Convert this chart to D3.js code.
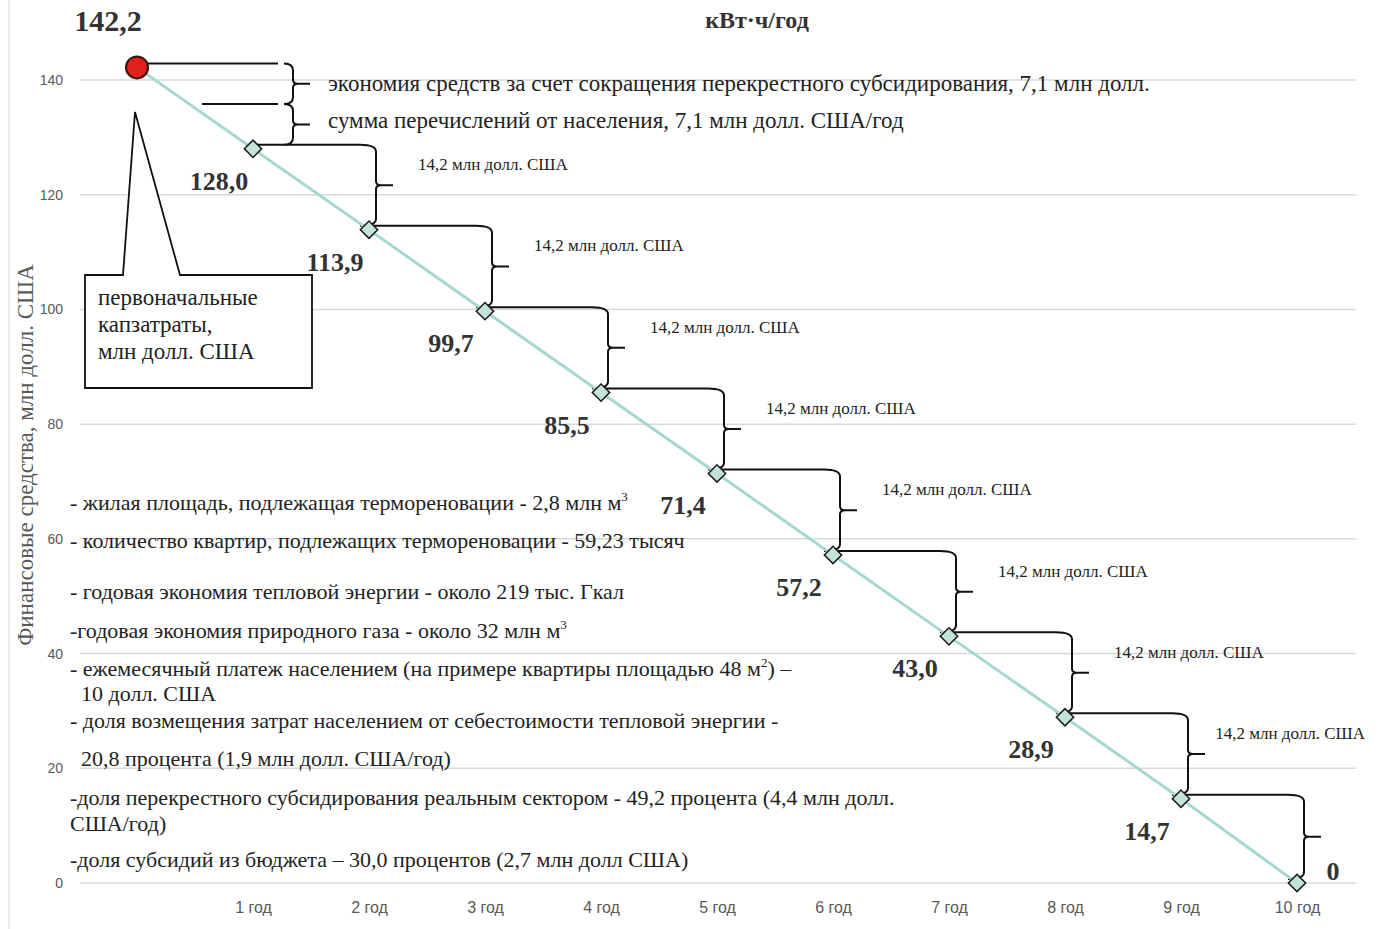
<!DOCTYPE html>
<html><head><meta charset="utf-8">
<script src="https://cdn.jsdelivr.net/npm/d3@7"></script>
<style>
body{margin:0;background:#fff;}
svg{display:block;}
</style></head>
<body>
<svg id="c" width="1379" height="929"></svg>
<script>
// ---------- data ----------
const years = [0,1,2,3,4,5,6,7,8,9,10];
const yearLabels = ["", "1 год","2 год","3 год","4 год","5 год","6 год","7 год","8 год","9 год","10 год"];
const values = [142.2,128.0,113.9,99.7,85.5,71.4,57.2,43.0,28.9,14.7,0];
const valueLabels = ["142,2","128,0","113,9","99,7","85,5","71,4","57,2","43,0","28,9","14,7","0"];
const yTicks = [0,20,40,60,80,100,120,140];
const stepLabel = "14,2 млн долл. США";
const topSplit = [142.2, 135.1, 128.0];
const topSplitLabels = ["экономия средств за счет сокращения перекрестного субсидирования, 7,1 млн долл.",
                        "сумма перечислений от населения, 7,1 млн долл. США/год"];
const title = "кВт·ч/год";
const yTitle = "Финансовые средства, млн  долл. США";
const calloutLines = ["первоначальные","капзатраты,","млн долл. США"];
const notes = [
  ["- жилая площадь, подлежащая термореновации - 2,8 млн м", "3"],
  ["- количество квартир, подлежащих термореновации - 59,23 тысяч"],
  ["- годовая экономия тепловой энергии - около 219 тыс. Гкал"],
  ["-годовая экономия природного газа - около 32 млн м", "3"],
  ["- ежемесячный платеж населением (на примере квартиры площадью 48 м", "2", ") –"],
  ["  10 долл. США"],
  ["- доля возмещения затрат населением от себестоимости тепловой энергии -"],
  ["  20,8 процента (1,9 млн долл. США/год)"],
  ["-доля перекрестного субсидирования реальным сектором - 49,2 процента (4,4 млн долл."],
  ["США/год)"],
  ["-доля субсидий из бюджета – 30,0 процентов (2,7 млн долл США)"]
];

// ---------- layout ----------
const svg = d3.select("#c");
const x = d3.scaleLinear().domain([0,10]).range([137,1297]);
const y = d3.scaleLinear().domain([0,140]).range([883,80]);
const serif = "'Liberation Serif','Times New Roman',serif";
const sans = "'Liberation Sans',Arial,sans-serif";

// frame left line
svg.append("line").attr("x1",9).attr("x2",9).attr("y1",0).attr("y2",929)
  .attr("stroke","#e6e6e6").attr("stroke-width",1.5);

// gridlines
svg.append("g").selectAll("line").data(yTicks).join("line")
  .attr("x1",80).attr("x2",1356)
  .attr("y1",d=>y(d)).attr("y2",d=>y(d))
  .attr("stroke","#d9d9d9").attr("stroke-width",1.5);

// y axis
const yAxis = d3.axisLeft(y).tickValues(yTicks).tickSize(0).tickPadding(0);
const gy = svg.append("g").attr("transform","translate(63,0)").call(yAxis);
gy.select(".domain").remove();
gy.selectAll("text").attr("font-family",sans).attr("font-size",14).attr("fill","#595959");

// x axis
const xAxis = d3.axisBottom(x).tickValues(years.slice(1)).tickFormat(d=>yearLabels[d]).tickSize(0).tickPadding(0);
const gx = svg.append("g").attr("transform","translate(0,902)").call(xAxis);
gx.select(".domain").remove();
gx.selectAll("text").attr("font-family",sans).attr("font-size",16).attr("fill","#595959");

// titles
svg.append("text").attr("x",757).attr("y",28).attr("text-anchor","middle")
  .attr("font-family",serif).attr("font-size",24).attr("font-weight","bold").attr("fill","#333")
  .text(title);
svg.append("text").attr("transform","translate(33,455) rotate(-90)").attr("text-anchor","middle")
  .attr("font-family",serif).attr("font-size",23).attr("fill","#595959").text(yTitle);

// brace path
function brace(bx, y1, y2, left){
  const m = (y1+y2)/2;
  return `M${bx-left},${y1} Q${bx},${y1} ${bx},${y1+7} L${bx},${m-4} Q${bx},${m} ${bx+5},${m} L${bx+17},${m}`+
         ` M${bx+5},${m} Q${bx},${m} ${bx},${m+4} L${bx},${y2-7} Q${bx},${y2} ${bx-left},${y2}`;
}
const ink = "#111";
const off = 4;

// top split braces
const tb = x(1)+40;
svg.append("line").attr("x1",x(0)).attr("x2",tb-15).attr("y1",y(topSplit[0])-off).attr("y2",y(topSplit[0])-off)
  .attr("stroke",ink).attr("stroke-width",2);
svg.append("line").attr("x1",x(0)+65).attr("x2",tb-15).attr("y1",y(topSplit[1])-off).attr("y2",y(topSplit[1])-off)
  .attr("stroke",ink).attr("stroke-width",2);
for(let i=0;i<2;i++){
  const y1 = y(topSplit[i])-off, y2 = y(topSplit[i+1])-off;
  svg.append("path").attr("d",brace(tb,y1,y2,9)).attr("fill","none").attr("stroke",ink).attr("stroke-width",2);
  svg.append("text").attr("x",tb+35).attr("y",(y1+y2)/2+7 - i*3)
    .attr("font-family",serif).attr("font-size",23).attr("fill","#222").text(topSplitLabels[i]);
}

// step braces
for(let i=1;i<values.length-1;i++){
  const bx = x(i+1)+7;
  const y1 = y(values[i])-off, y2 = y(values[i+1])-off;
  svg.append("line").attr("x1",x(i)).attr("x2",bx-16).attr("y1",y1).attr("y2",y1)
    .attr("stroke",ink).attr("stroke-width",2);
  svg.append("path").attr("d",brace(bx,y1,y2,16)).attr("fill","none").attr("stroke",ink).attr("stroke-width",2);
  if(i<values.length-2){
    const t = svg.append("text").attr("y",(y1+y2)/2-15)
      .attr("font-family",serif).attr("font-size",17).attr("fill","#222").text(stepLabel);
    const w = t.node().getComputedTextLength();
    t.attr("x",Math.min(bx+42, 1365-w));
  }
}

// diagonal line
svg.append("path").datum(years)
  .attr("d",d3.line().x(d=>x(d)).y(d=>y(values[d])))
  .attr("fill","none").attr("stroke","#a6d8cf").attr("stroke-width",3);

// diamonds
svg.append("g").selectAll("path").data(years.slice(1)).join("path")
  .attr("d",d3.symbol(d3.symbolSquare,150))
  .attr("transform",d=>`translate(${x(d)},${y(values[d])}) rotate(45)`)
  .attr("fill","#c3e2da").attr("stroke","#1a1a1a").attr("stroke-width",1.5);

// red start point
svg.append("circle").attr("cx",x(0)).attr("cy",y(values[0])).attr("r",11)
  .attr("fill","#e0201c").attr("stroke","#3a1010").attr("stroke-width",2);

// value labels
svg.append("g").selectAll("text").data(years).join("text")
  .attr("x",d=> d===0 ? x(d)-29 : d===10 ? x(d)+36 : x(d)-34)
  .attr("y",d=> d===0 ? y(values[d])-36 : d===10 ? y(values[d])-3 : y(values[d])+41)
  .attr("text-anchor","middle")
  .attr("font-family",serif).attr("font-weight","bold")
  .attr("font-size",d=>d===0?30:26).attr("fill","#333")
  .text(d=>valueLabels[d]);

// callout
svg.append("path").attr("d","M85,275 L123,275 L135,112 L180,275 L312,275 L312,388 L85,388 Z")
  .attr("fill","#fff").attr("stroke",ink).attr("stroke-width",1.8);
svg.append("g").selectAll("text").data(calloutLines).join("text")
  .attr("x",98).attr("y",(d,i)=>305+i*27)
  .attr("font-family",serif).attr("font-size",23).attr("fill","#222").text(d=>d);

// notes
const noteY = [510,548,599,638,676,701,728,766,805,831,867];
const notesG = svg.append("g").attr("font-family",serif).attr("font-size",22).attr("fill","#222");
notes.forEach((n,i)=>{
  const t = notesG.append("text").attr("x",70).attr("y",noteY[i]).attr("xml:space","preserve");
  t.append("tspan").text(n[0]);
  if(n[1]){ t.append("tspan").attr("font-size",13).attr("dy",-9).text(n[1]); }
  if(n[2]){ t.append("tspan").attr("dy",9).text(n[2]); }
});
</script>
</body></html>
